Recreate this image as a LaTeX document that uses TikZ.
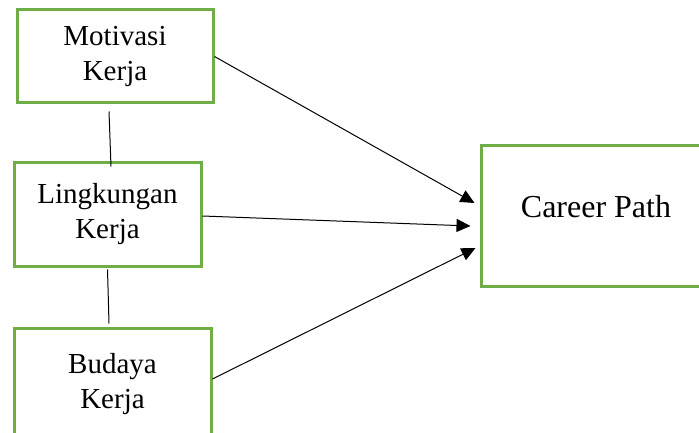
\documentclass[tikz,border=0pt]{standalone}
\usepackage{fontspec}
\setmainfont{Liberation Serif}
\usepackage{tikz}
\usetikzlibrary{arrows.meta}
\usetikzlibrary{calc}
\definecolor{boxgreen}{HTML}{70AD47}

\begin{document}
\begin{tikzpicture}[x=1pt,y=1pt,
	box/.style={draw=boxgreen, line width=3pt, align=center, inner sep=0pt, font=\fontsize{29}{35}\selectfont},
	conn/.style={line width=1pt},
	arr/.style={line width=1pt, -{Triangle[length=14pt,width=13pt]}}]
\useasboundingbox (0,0) rectangle (699,432);
\node[box, minimum width=196pt, minimum height=93pt] (mot) at (115,375.5) {Motivasi\\Kerja};
\node[box, minimum width=187pt, minimum height=104pt] (ling) at (107.5,218) {Lingkungan\\Kerja};
\node[box, minimum width=197pt, minimum height=112pt] (bud) at (112.5,48) {Budaya\\Kerja};
\node[box, minimum width=230pt, minimum height=140pt, text depth=20pt, font=\fontsize{32}{38}\selectfont] (cp) at (596,216) {Career Path};
\path[conn]
($(mot.south)+(-6,-7)$) edge ($(ling.north)+(3.5,-6)$)
($(ling.south)+(0,-2)$) edge ($(bud.north)+(-3.5,3)$)
;
\path[arr]
(mot.east) edge ($(cp.west)+(-5,13)$)
($(ling.east)+(0,-2)$) edge ($(cp.west)+(-9,-10)$)
($(bud.east)+(0,5)$) edge ($(cp.west)+(-4,-32)$)
;
\end{tikzpicture}
\end{document}
